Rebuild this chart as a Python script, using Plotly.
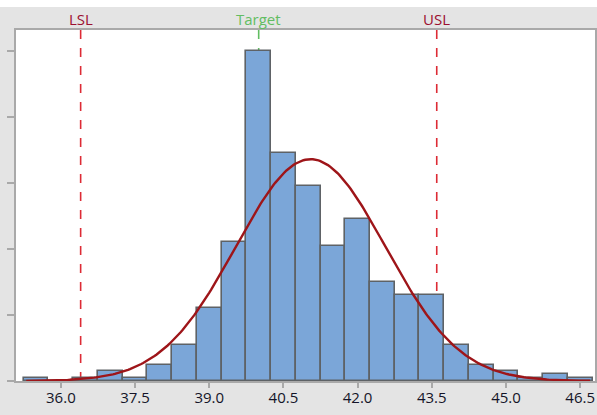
import numpy as np
import plotly.graph_objects as go

# Histogram bins (centres, width 0.5) and their frequencies
bin_centers = [35.5, 36.0, 36.5, 37.0, 37.5, 38.0, 38.5, 39.0, 39.5, 40.0, 40.5, 41.0,
               41.5, 42.0, 42.5, 43.0, 43.5, 44.0, 44.5, 45.0, 45.5, 46.0, 46.5]
frequencies = [1, 0, 1, 3, 1, 5, 11, 22, 42, 100, 69, 59,
               41, 49, 30, 26, 26, 11, 5, 3, 1, 2, 1]
bin_width = 0.5

# Specification limits
lsl = 36.4
target = 40.0
usl = 43.6

# Fitted normal distribution
fit_mean = 41.05
fit_sd = 1.51
curve_start, curve_end = 35.3, 46.7

tick_values = [36.0, 37.5, 39.0, 40.5, 42.0, 43.5, 45.0, 46.5]
tick_labels = ["36.0", "37.5", "39.0", "40.5", "42.0", "43.5", "45.0", "46.5"]
y_ticks = [0, 20, 40, 60, 80, 100]

n_total = sum(frequencies)
xs = np.linspace(curve_start, curve_end, 300)
ys = n_total * bin_width / (fit_sd * np.sqrt(2 * np.pi)) * np.exp(-0.5 * ((xs - fit_mean) / fit_sd) ** 2)

FONT = "Open Sans"
SPEC_RED = "#dd2b35"
LABEL_RED = "#9c1030"
GREEN = "#62bd62"
AXIS_GRAY = "#a9a9a9"
TEXT = "#141428"

fig = go.Figure()
fig.add_trace(go.Bar(
    x=bin_centers, y=frequencies, width=bin_width,
    marker=dict(color="#7ba6d8", line=dict(color="#5e6266", width=1.6)),
    hoverinfo="x+y",
))
fig.add_trace(go.Scatter(
    x=xs, y=ys, mode="lines",
    line=dict(color="#9e1519", width=2.4),
    hoverinfo="skip",
))

# Spec limit and target reference lines, drawn behind the bars
for xv, col in [(lsl, SPEC_RED), (usl, SPEC_RED), (target, GREEN)]:
    fig.add_shape(type="line", xref="x", yref="paper", x0=xv, x1=xv, y0=0, y1=1,
                  line=dict(color=col, width=1.6, dash="dash"), layer="below")

for xv, txt, col in [(lsl, "LSL", LABEL_RED), (target, "Target", GREEN), (usl, "USL", LABEL_RED)]:
    fig.add_annotation(x=xv, xref="x", y=1, yref="paper", text=txt, showarrow=False,
                       yanchor="bottom", yshift=-1,
                       font=dict(family=FONT, size=15, color=col))

# White strip at the top edge of the panel
fig.add_shape(type="rect", xref="paper", yref="paper",
              x0=-0.1, x1=1.1, y0=1 + 23 / 351, y1=1.2,
              fillcolor="white", line=dict(width=0), layer="below")

fig.update_layout(
    width=597, height=415,
    margin=dict(l=16, r=0, t=30, b=34),
    paper_bgcolor="#e4e4e4",
    plot_bgcolor="white",
    showlegend=False,
    bargap=0,
    font=dict(family=FONT, size=15, color=TEXT),
)
fig.update_xaxes(
    range=[35.093, 46.80],
    tickvals=tick_values, ticktext=tick_labels,
    ticks="outside", ticklen=5, tickwidth=1.5, tickcolor=AXIS_GRAY,
    ticklabelstandoff=-3,
    showline=True, linecolor=AXIS_GRAY, linewidth=2, mirror=True,
    showgrid=False, zeroline=False,
    tickfont=dict(family=FONT, size=15, color=TEXT),
)
fig.update_yaxes(
    range=[0, 106.4],
    tickvals=y_ticks, showticklabels=False,
    ticks="outside", ticklen=7, tickwidth=1.5, tickcolor=AXIS_GRAY,
    showline=True, linecolor=AXIS_GRAY, linewidth=2, mirror=True,
    showgrid=False, zeroline=False,
)

fig.write_html("out.html")
